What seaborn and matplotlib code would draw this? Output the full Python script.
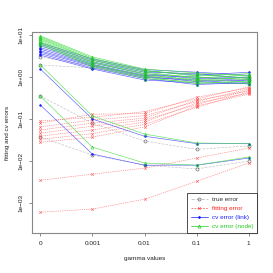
import numpy as np
import pandas as pd
import matplotlib
matplotlib.use("Agg")
import matplotlib.pyplot as plt
from matplotlib.lines import Line2D
import seaborn as sns

gamma_labels = ["0", "0.001", "0.01", "0.1", "1"]

# true error, one line per run
true_err = [
    [3.0, 1.83, 1.10, 0.90, 0.95],
    [1.93, 1.64, 1.00, 0.80, 0.85],
    [0.353, 0.080, 0.030, 0.019, 0.023],
    [0.037, 0.014, 0.008, 0.0065, 0.010],
]

# fitting error
fit_err = [
    [0.090, 0.110, 0.150, 0.300, 0.580],
    [0.080, 0.130, 0.135, 0.330, 0.550],
    [0.065, 0.095, 0.120, 0.260, 0.520],
    [0.055, 0.080, 0.105, 0.280, 0.460],
    [0.046, 0.068, 0.095, 0.220, 0.490],
    [0.039, 0.055, 0.085, 0.240, 0.410],
    [0.033, 0.045, 0.075, 0.190, 0.440],
    [0.028, 0.037, 0.065, 0.205, 0.390],
    [0.0035, 0.0049, 0.0068, 0.0118, 0.0204],
    [0.00061, 0.00072, 0.00124, 0.0033, 0.0090],
]

# cv error (link)
cv_link = [
    [6.5, 2.7, 1.50, 1.30, 1.10],
    [6.0, 2.5, 1.40, 1.10, 1.30],
    [5.5, 2.3, 1.30, 1.20, 0.93],
    [5.0, 2.15, 1.20, 0.92, 1.00],
    [4.6, 2.0, 1.10, 1.00, 0.80],
    [4.2, 1.9, 1.05, 0.78, 0.86],
    [3.9, 1.8, 0.98, 0.85, 0.68],
    [3.6, 1.65, 0.92, 0.66, 0.74],
    [3.3, 1.55, 0.85, 0.72, 0.70],
    [1.55, 0.100, 0.039, 0.026, 0.026],
    [0.215, 0.0147, 0.008, 0.008, 0.0118],
]

# cv error (node)
cv_node = [
    [9.5, 3.0, 1.55, 1.25, 1.05],
    [9.0, 2.8, 1.45, 1.05, 1.20],
    [8.5, 2.6, 1.40, 1.15, 0.92],
    [8.0, 2.5, 1.30, 0.95, 1.10],
    [7.5, 2.3, 1.20, 1.00, 0.86],
    [7.0, 2.2, 1.15, 0.82, 0.98],
    [6.6, 2.0, 1.05, 0.88, 0.75],
    [6.2, 1.9, 1.00, 0.70, 0.80],
    [5.8, 1.75, 0.92, 0.76, 0.70],
    [1.93, 0.118, 0.044, 0.027, 0.026],
    [0.353, 0.0215, 0.009, 0.008, 0.0125],
]


def to_long(runs):
    rows = []
    for r, vals in enumerate(runs):
        for i, v in enumerate(vals):
            rows.append({"run": r, "pos": i + 1, "err": v})
    return pd.DataFrame(rows)


sns.set_style("white")
plt.rcParams["font.family"] = ["Liberation Sans", "DejaVu Sans"]

fig = plt.figure(figsize=(2.73, 2.73), dpi=100)
ax = fig.add_axes([32 / 273, 40 / 273, 225 / 273, 201 / 273])

# name, runs, line colour, marker, linestyle, marker edge, marker face, marker size, alpha, text colour
series = [
    ("true error", true_err, "#c0c0c0", "o", (0, (4, 2)), "#666666", "none", 2.2, 1.0, "#333333"),
    ("fitting error", fit_err, "#ff6060", "x", (0, (2, 1.5)), "#ff4040", "#ff4040", 1.8, 0.8, "#ff2020"),
    ("cv error (link)", cv_link, "#4040ff", "o", "-", "#1010ff", "#1010ff", 1.3, 0.85, "#2020ff"),
    ("cv error (node)", cv_node, "#40dd40", "^", "-", "#22cc22", "none", 2.2, 0.85, "#22cc22"),
]

handles = []
for name, runs, col, mk, ls, mec, mfc, ms, al, tcol in series:
    df = to_long(runs)
    sns.lineplot(data=df, x="pos", y="err", units="run", estimator=None,
                 color=col, lw=0.45, linestyle=ls, marker=mk, markersize=ms,
                 markeredgecolor=mec, markerfacecolor=mfc, markeredgewidth=0.45,
                 alpha=al, ax=ax, legend=False)
    handles.append(Line2D([], [], color=col, lw=0.6, linestyle=ls, marker=mk,
                          markersize=ms, markeredgecolor=mec, markerfacecolor=mfc,
                          markeredgewidth=0.5, label=name))

ax.set_yscale("log")
ax.set_xlim(0.84, 5.16)
ax.set_ylim(10 ** -3.71, 10 ** 1.07)
ax.set_xticks(range(1, 6))
ax.set_xticklabels(gamma_labels)
yt = [1e1, 1e0, 1e-1, 1e-2, 1e-3]
ax.set_yticks(yt)
ax.set_yticklabels(["1e+01", "1e+00", "1e\u221201", "1e\u221202", "1e\u221203"],
                   rotation=90, va="center")
ax.yaxis.set_minor_locator(matplotlib.ticker.NullLocator())
ax.tick_params(axis="both", which="major", direction="out", length=2.5,
               width=0.6, color="#777777", labelsize=4.6, labelcolor="#222222",
               bottom=True, left=True, pad=3.5)
for s in ax.spines.values():
    s.set_color("#888888")
    s.set_linewidth(0.8)

ax.set_xlabel("gamma values", fontsize=4.6, color="#222222", labelpad=7)
ax.set_ylabel("fitting and cv errors", fontsize=4.6, color="#222222", labelpad=6)

leg = ax.legend(handles=handles, loc="lower right", fontsize=4.6,
                frameon=True, fancybox=False, borderaxespad=0,
                handlelength=2.6, handletextpad=0.6, labelspacing=0.55,
                borderpad=0.6)
leg.get_frame().set_edgecolor("#222222")
leg.get_frame().set_linewidth(0.7)
for txt, s in zip(leg.get_texts(), series):
    txt.set_color(s[-1])

fig.savefig("out.png", dpi=100)
